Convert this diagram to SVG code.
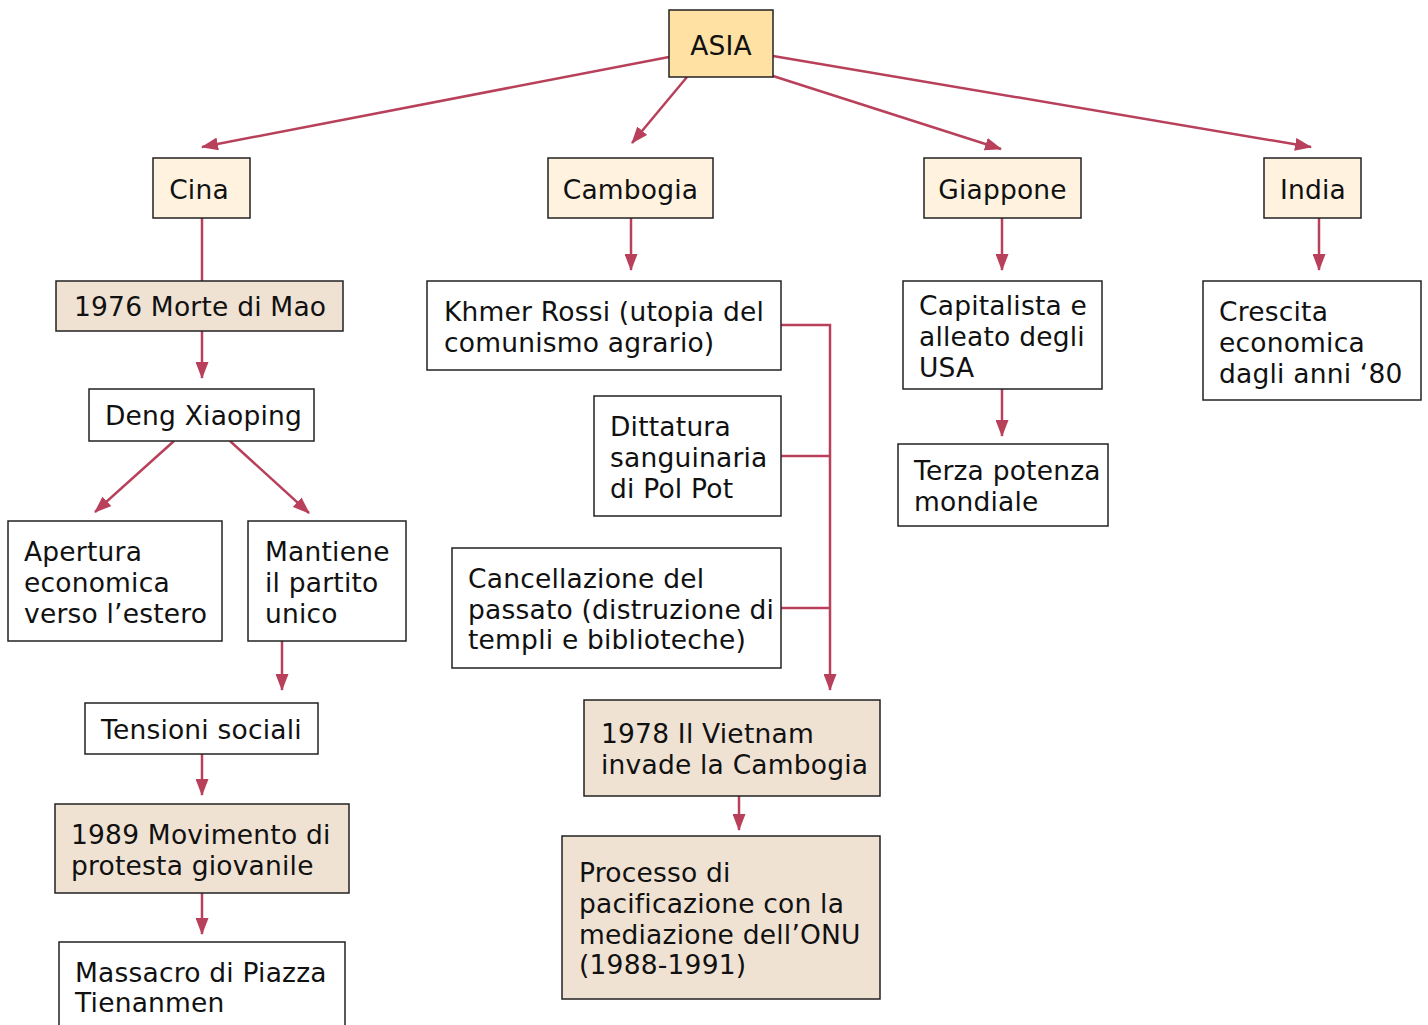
<svg xmlns="http://www.w3.org/2000/svg" width="1428" height="1025" viewBox="0 0 1428 1025">
<defs>
<marker id="ah" markerUnits="userSpaceOnUse" markerWidth="17" markerHeight="13" refX="16" refY="6.5" orient="auto">
<path d="M0,0 L17,6.5 L0,13 z" fill="#B8405A"/>
</marker>
<style>
rect{stroke:#222;stroke-width:1.5}
.top{fill:#FFE1A3}
.cat{fill:#FFF3E0}
.ev{fill:#EFE2D3}
.pl{fill:#fff}
text{font-family:"DejaVu Sans",Verdana,sans-serif;font-size:26.5px;letter-spacing:0.2px;fill:#111}
.c{text-anchor:middle}
#connectors path{fill:none;stroke:#B8405A;stroke-width:2.5}
</style>
</defs>
<rect width="1428" height="1025" fill="#fff" style="stroke:none"/>
<g id="connectors">
<path d="M669,57 L202,147" marker-end="url(#ah)"/>
<path d="M687,77 L632,143" marker-end="url(#ah)"/>
<path d="M773,76 L1001,149" marker-end="url(#ah)"/>
<path d="M773,56 L1311,147" marker-end="url(#ah)"/>
<path d="M202,218 L202,281"/>
<path d="M202,331 L202,378" marker-end="url(#ah)"/>
<path d="M174,441 L95,512" marker-end="url(#ah)"/>
<path d="M230,441 L309,513" marker-end="url(#ah)"/>
<path d="M282,641 L282,690" marker-end="url(#ah)"/>
<path d="M202,754 L202,795" marker-end="url(#ah)"/>
<path d="M202,893 L202,934" marker-end="url(#ah)"/>
<path d="M631,218 L631,270" marker-end="url(#ah)"/>
<path d="M781,325 L830,325 L830,690" marker-end="url(#ah)"/>
<path d="M781,456 L830,456"/>
<path d="M781,608 L830,608"/>
<path d="M739,796 L739,830" marker-end="url(#ah)"/>
<path d="M1002,218 L1002,270" marker-end="url(#ah)"/>
<path d="M1002,389 L1002,436" marker-end="url(#ah)"/>
<path d="M1319,218 L1319,270" marker-end="url(#ah)"/>
</g>
<g id="asia"><rect class="top" x="669" y="10" width="104" height="67"/><text class="c" x="721" y="55">ASIA</text></g>
<g id="cina"><rect class="cat" x="153" y="158" width="97" height="60"/><text class="c" x="199" y="199">Cina</text></g>
<g id="cambogia"><rect class="cat" x="548" y="158" width="165" height="60"/><text class="c" x="630.5" y="199">Cambogia</text></g>
<g id="giappone"><rect class="cat" x="924" y="158" width="157" height="60"/><text class="c" x="1002.5" y="199">Giappone</text></g>
<g id="india"><rect class="cat" x="1264" y="158" width="97" height="60"/><text class="c" x="1313" y="199">India</text></g>
<g id="mao"><rect class="ev" x="56" y="281" width="287" height="50"/><text x="74" y="316">1976 Morte di Mao</text></g>
<g id="deng"><rect class="pl" x="89" y="389" width="225" height="52"/><text x="105" y="425">Deng Xiaoping</text></g>
<g id="apertura"><rect class="pl" x="8" y="521" width="214" height="120"/><text x="24" y="561">Apertura</text><text x="24" y="592">economica</text><text x="24" y="623">verso l’estero</text></g>
<g id="mantiene"><rect class="pl" x="248" y="521" width="158" height="120"/><text x="265" y="561">Mantiene</text><text x="265" y="592">il partito</text><text x="265" y="623">unico</text></g>
<g id="tensioni"><rect class="pl" x="85" y="703" width="233" height="51"/><text x="101" y="739">Tensioni sociali</text></g>
<g id="movimento"><rect class="ev" x="55" y="804" width="294" height="89"/><text x="71" y="844">1989 Movimento di</text><text x="71" y="875">protesta giovanile</text></g>
<g id="massacro"><rect class="pl" x="59" y="942" width="286" height="95"/><text x="75" y="982">Massacro di Piazza</text><text x="75" y="1012">Tienanmen</text></g>
<g id="khmer"><rect class="pl" x="427" y="281" width="354" height="89"/><text x="444" y="321">Khmer Rossi (utopia del</text><text x="444" y="352">comunismo agrario)</text></g>
<g id="dittatura"><rect class="pl" x="594" y="396" width="187" height="120"/><text x="610" y="436">Dittatura</text><text x="610" y="467">sanguinaria</text><text x="610" y="498">di Pol Pot</text></g>
<g id="cancellazione"><rect class="pl" x="452" y="548" width="329" height="120"/><text x="468" y="588">Cancellazione del</text><text x="468" y="619">passato (distruzione di</text><text x="468" y="649">templi e biblioteche)</text></g>
<g id="vietnam"><rect class="ev" x="584" y="700" width="296" height="96"/><text x="601" y="743">1978 Il Vietnam</text><text x="601" y="774">invade la Cambogia</text></g>
<g id="processo"><rect class="ev" x="562" y="836" width="318" height="163"/><text x="579" y="882">Processo di</text><text x="579" y="913">pacificazione con la</text><text x="579" y="944">mediazione dell’ONU</text><text x="579" y="974">(1988-1991)</text></g>
<g id="capitalista"><rect class="pl" x="903" y="281" width="199" height="108"/><text x="919" y="315">Capitalista e</text><text x="919" y="346">alleato degli</text><text x="919" y="377">USA</text></g>
<g id="terza"><rect class="pl" x="898" y="444" width="210" height="82"/><text x="914" y="480">Terza potenza</text><text x="914" y="511">mondiale</text></g>
<g id="crescita"><rect class="pl" x="1203" y="281" width="218" height="119"/><text x="1219" y="321">Crescita</text><text x="1219" y="352">economica</text><text x="1219" y="383">dagli anni ‘80</text></g>
</svg>
